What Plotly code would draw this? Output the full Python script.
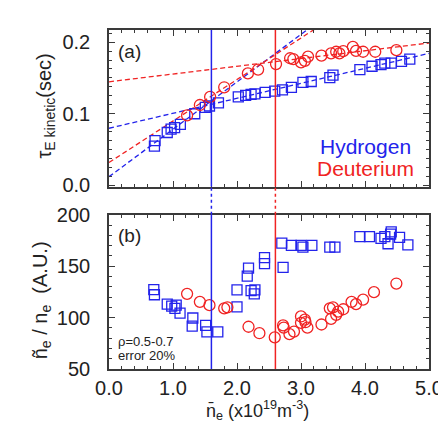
import plotly.graph_objects as go

# ---------------- data ----------------
# panel (a): tau_E kinetic (sec) vs line density
h_tau_x = [0.71, 0.72, 0.91, 0.97, 1.025, 1.115, 1.34, 1.505, 1.57, 1.71, 2.02, 2.135, 2.22, 2.28,
           2.44, 2.59, 2.71, 2.85, 3.03, 3.16, 3.45, 3.50, 3.92, 4.11, 4.25, 4.31, 4.41, 4.57, 4.70]
h_tau_y = [0.0547, 0.0624, 0.0737, 0.0783, 0.0804, 0.085, 0.0999, 0.1089, 0.1107, 0.1152, 0.1234,
           0.1256, 0.127, 0.1278, 0.1297, 0.1315, 0.1333, 0.1369, 0.1437, 0.145, 0.1504, 0.154,
           0.1617, 0.1663, 0.1685, 0.1708, 0.1708, 0.173, 0.1762]
d_tau_x = [1.22, 1.42, 1.58, 1.80, 2.17, 2.33, 2.61, 2.83, 2.88, 3.00, 3.06, 3.11, 3.32, 3.47, 3.55,
           3.60, 3.66, 3.81, 3.86, 3.97, 4.16, 4.49]
d_tau_y = [0.0976, 0.1121, 0.1234, 0.1369, 0.1563, 0.1617, 0.1694, 0.1775, 0.1762, 0.1717, 0.1739,
           0.1798, 0.1812, 0.1843, 0.1866, 0.1843, 0.1874, 0.1934, 0.1879, 0.1866, 0.1866, 0.1888]

# dashed fit lines (endpoints)
h_fit_low_x = [0.0, 3.4]
h_fit_low_y = [0.0119, 0.2373]
h_fit_high_x = [0.0, 5.0]
h_fit_high_y = [0.0796, 0.1843]
d_fit_low_x = [0.0, 3.4]
d_fit_low_y = [0.0317, 0.229]
d_fit_high_x = [0.0, 5.0]
d_fit_high_y = [0.1446, 0.1988]

# panel (b): density fluctuation (A.U.)
h_fl_x = [0.70, 0.71, 0.91, 0.98, 1.03, 1.05, 1.11, 1.31, 1.30, 1.51, 1.53, 1.70, 2.00, 2.00, 2.16,
          2.18, 2.22, 2.27, 2.28, 2.43, 2.43, 2.70, 2.72, 2.85, 3.00, 3.03, 3.17, 3.45, 3.53, 3.92,
          4.07, 4.25, 4.31, 4.36, 4.40, 4.41, 4.54, 4.67]
h_fl_y = [127.2, 122.2, 113.1, 111.2, 109.0, 112.1, 104.3, 99.6, 91.7, 92.4, 86.1, 86.1, 126.9,
          110.5, 140.4, 148.2, 126.3, 123.1, 126.9, 158.3, 152.4, 172.4, 148.9, 170.2, 170.2, 168.6,
          170.2, 168.6, 168.6, 178.7, 178.7, 177.1, 178.7, 171.8, 181.2, 183.4, 178.1, 170.8]
d_fl_x = [1.22, 1.42, 1.57, 1.80, 1.85, 2.18, 2.35, 2.59, 2.72, 2.73, 2.82, 2.89, 3.00, 3.00, 3.06,
          3.07, 3.10, 3.32, 3.45, 3.47, 3.50, 3.55, 3.58, 3.66, 3.79, 3.86, 3.97, 4.14, 4.49]
d_fl_y = [123.1, 115.3, 112.1, 109.0, 110.0, 91.1, 84.8, 80.8, 92.4, 90.2, 83.9, 86.4, 101.1, 94.9,
          98.0, 95.5, 90.2, 93.3, 109.0, 98.7, 110.0, 102.7, 105.8, 108.1, 115.3, 113.1, 117.5,
          124.7, 133.1]

# critical densities
h_crit = 1.6
d_crit = 2.6

BLUE = "rgb(35,35,235)"
RED = "rgb(240,35,35)"
AX = "#3a3a3a"
FONT = "Liberation Sans, Arial, sans-serif"

fig = go.Figure()

def dashed(x, y, color, xa, ya):
    fig.add_trace(go.Scatter(x=x, y=y, mode="lines", xaxis=xa, yaxis=ya,
                             line=dict(color=color, width=1.3, dash="5px,3px"),
                             showlegend=False, hoverinfo="skip"))

dashed(h_fit_low_x, h_fit_low_y, BLUE, "x", "y")
dashed(h_fit_high_x, h_fit_high_y, BLUE, "x", "y")
dashed(d_fit_low_x, d_fit_low_y, RED, "x", "y")
dashed(d_fit_high_x, d_fit_high_y, RED, "x", "y")

sq = dict(symbol="square-open", size=10, color=BLUE, line=dict(width=1.3, color=BLUE))
ci = dict(symbol="circle-open", size=11, color=RED, line=dict(width=1.3, color=RED))

fig.add_trace(go.Scatter(x=h_tau_x, y=h_tau_y, mode="markers", marker=sq, xaxis="x", yaxis="y",
                         showlegend=False))
fig.add_trace(go.Scatter(x=d_tau_x, y=d_tau_y, mode="markers", marker=ci, xaxis="x", yaxis="y",
                         showlegend=False))
fig.add_trace(go.Scatter(x=h_fl_x, y=h_fl_y, mode="markers", marker=sq, xaxis="x2", yaxis="y2",
                         showlegend=False))
fig.add_trace(go.Scatter(x=d_fl_x, y=d_fl_y, mode="markers", marker=ci, xaxis="x2", yaxis="y2",
                         showlegend=False))

top_dom = [0.538, 1.0]
bot_dom = [0.0, 0.455]

shapes = []
for xv, col in [(h_crit, BLUE), (d_crit, RED)]:
    shapes.append(dict(type="line", xref="x", yref="paper", x0=xv, x1=xv, y0=top_dom[0], y1=top_dom[1],
                       line=dict(color=col, width=1.5)))
    shapes.append(dict(type="line", xref="x2", yref="paper", x0=xv, x1=xv, y0=bot_dom[0], y1=bot_dom[1],
                       line=dict(color=col, width=1.5)))
    shapes.append(dict(type="line", xref="x", yref="paper", x0=xv, x1=xv, y0=bot_dom[1], y1=top_dom[0],
                       line=dict(color=col, width=1.5, dash="dot")))

common = dict(showline=True, linecolor=AX, linewidth=1.6, mirror="ticks", ticks="inside",
              tickcolor=AX, tickwidth=1.3, showgrid=False, zeroline=False,
              tickfont=dict(family=FONT, size=20, color="#222"))

fig.update_layout(
    width=446, height=422,
    margin=dict(l=101, r=25, t=11, b=61),
    paper_bgcolor="white", plot_bgcolor="white",
    font=dict(family=FONT, color="#222"),
    shapes=shapes,
    xaxis=dict(domain=[0, 1], anchor="y", range=[0, 5], dtick=1, ticklen=6, showticklabels=False,
               minor=dict(dtick=0.2, ticklen=3, ticks="inside", tickcolor=AX, showgrid=False), **common),
    yaxis=dict(domain=top_dom, anchor="x", range=[-0.002, 0.217], tickvals=[0, 0.1, 0.2],
               tickformat=".1f", ticklen=6, ticklabelstandoff=13,
               minor=dict(dtick=0.0125, tick0=0, ticklen=3, ticks="inside", tickcolor=AX, showgrid=False),
               **common),
    xaxis2=dict(domain=[0, 1], anchor="y2", range=[0, 5], dtick=1, tickformat=".1f", ticklen=6,
                minor=dict(dtick=0.2, ticklen=3, ticks="inside", tickcolor=AX, showgrid=False), **common),
    yaxis2=dict(domain=bot_dom, anchor="x2", range=[50, 200], dtick=50, ticklen=6, ticklabelstandoff=13,
                minor=dict(dtick=10, ticklen=3, ticks="inside", tickcolor=AX, showgrid=False), **common),
)

def px_x(px):
    return (px - 101) / 320.3

def px_y(py):
    return (361 - py) / 350.0

ann = [
    dict(text="(a)", x=px_x(122), y=px_y(33), font=dict(size=19)),
    dict(text="(b)", x=px_x(122), y=px_y(223), font=dict(size=19)),
    dict(text="Hydrogen", x=px_x(358), y=px_y(131), font=dict(size=21, color=BLUE)),
    dict(text="Deuterium", x=px_x(358), y=px_y(154), font=dict(size=21, color=RED)),
    dict(text="ρ=0.5-0.7", x=px_x(108), y=px_y(333), xanchor="left", font=dict(size=13)),
    dict(text="error 20%", x=px_x(108), y=px_y(347), xanchor="left", font=dict(size=13)),
    dict(text="τ<sub>E kinetic</sub>(sec)", x=px_x(37), y=px_y(90), textangle=-90, font=dict(size=20)),
    dict(text="ñ<sub>e</sub> / n<sub>e</sub>  (A.U.)", x=px_x(33), y=px_y(290), textangle=-90,
         font=dict(size=20)),
    dict(text="n̄<sub>e</sub> (x10<sup>19</sup>m<sup>-3</sup>)", x=px_x(250), y=px_y(404),
         font=dict(size=18)),
]
for a in ann:
    a.update(xref="paper", yref="paper", showarrow=False)
    a.setdefault("xanchor", "center")
    a["yanchor"] = "middle"
    a["font"].setdefault("color", "#222")
    a["font"]["family"] = FONT
fig.update_layout(annotations=ann)

fig.write_html("out.html")
